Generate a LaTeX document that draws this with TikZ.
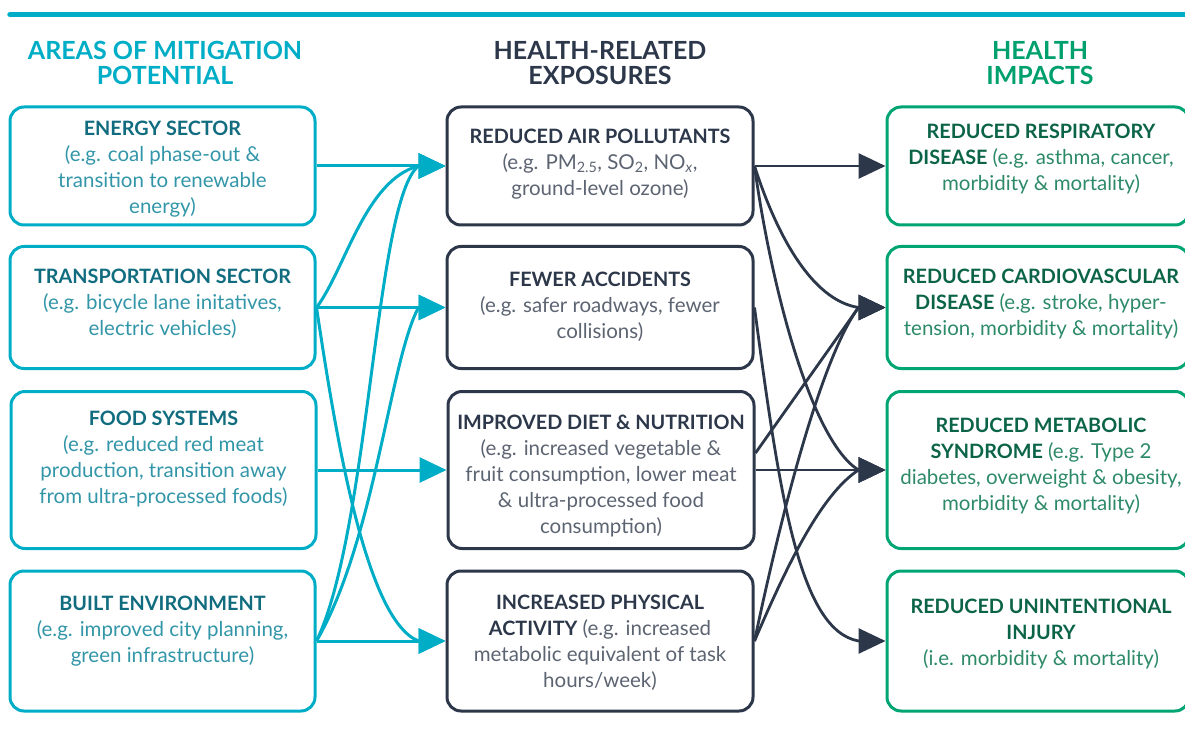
\documentclass[tikz,border=0pt]{standalone}
\usepackage{fontspec}
\setmainfont{Lato}
\usetikzlibrary{arrows.meta}
\definecolor{tealA}{RGB}{0,173,198}
\definecolor{tealT}{RGB}{16,108,126}
\definecolor{tealB}{RGB}{50,150,168}
\definecolor{navyA}{RGB}{44,55,74}
\definecolor{navyB}{RGB}{92,100,114}
\definecolor{greenA}{RGB}{0,165,115}
\definecolor{greenH}{RGB}{0,160,110}
\definecolor{greenT}{RGB}{12,100,72}
\definecolor{greenB}{RGB}{45,138,104}
\newcommand\bxtitle[2]{{\fontsize{19.8}{26}\selectfont\bfseries\color{#1}#2}}
\begin{document}
\begin{tikzpicture}[x=1pt,y=-1pt,
  boxbase/.style={rounded corners=14pt, line width=3pt, inner sep=0pt},
  lbox/.style={boxbase, draw=tealA, minimum width=305pt},
  mbox/.style={boxbase, draw=navyA, minimum width=306pt},
  rbox/.style={boxbase, draw=greenA, minimum width=302pt},
  txtbase/.style={align=center, inner sep=0pt, font=\fontsize{20.5}{26}\selectfont},
  ltxt/.style={txtbase, text=tealB},
  mtxt/.style={txtbase, text=navyB},
  rtxt/.style={txtbase, text=greenB},
  head/.style={align=center, inner sep=0pt, font=\fontsize{25}{25.5}\selectfont\bfseries},
  tl/.style={draw=tealA, line width=3pt, line join=round, -{Triangle[length=27pt,width=25pt]}},
  nv/.style={draw=navyA, line width=2.8pt, line join=round, -{Triangle[length=27pt,width=25pt]}}
]
\useasboundingbox (0,0) rectangle (1185,735);
\clip (0,0) rectangle (1185,735);
\draw[tealA, line width=5.5pt, line cap=round] (10,14.5) -- (1195,14.5);

% headings
\node[head, text=tealA] (h1) at (165,63) {AREAS OF MITIGATION\\POTENTIAL};
\node[head, text=navyA] (h2) at (600,63) {HEALTH-RELATED\\EXPOSURES};
\node[head, text=greenH] (h3) at (1040,63) {HEALTH\\IMPACTS};

% left boxes
\node[lbox, minimum height=118pt] (e1) at (162.5,166) {};
\node[lbox, minimum height=122pt] (t2) at (162.5,307.5) {};
\node[lbox, minimum height=157pt] (f3) at (163.5,470) {};
\node[lbox, minimum height=140pt] (b4) at (162.5,641) {};
% middle boxes
\node[mbox, minimum height=118pt] (a1) at (600,166) {};
\node[mbox, minimum height=122pt] (c2) at (600,307.5) {};
\node[mbox, minimum height=157pt] (d3) at (601,470) {};
\node[mbox, minimum height=140pt] (p4) at (600,641) {};
% right boxes
\node[rbox, minimum height=118pt] (r1) at (1038,166) {};
\node[rbox, minimum height=122pt] (v2) at (1038,307.5) {};
\node[rbox, minimum height=157pt] (m3) at (1038,470) {};
\node[rbox, minimum height=140pt] (i4) at (1038,641) {};

% left texts
\node[ltxt] (e1t) at (162.5,169.5) {\bxtitle{tealT}{ENERGY SECTOR}\\(e.g. coal phase-out \&\\transition to renewable\\energy)};
\node[ltxt] (t2t) at (162.5,303.5) {\bxtitle{tealT}{TRANSPORTATION SECTOR}\\(e.g. bicycle lane initatives,\\electric vehicles)};
\node[ltxt] (f3t) at (163.5,459) {\bxtitle{tealT}{FOOD SYSTEMS}\\(e.g. reduced red meat\\production, transition away\\from ultra-processed foods)};
\node[ltxt] (b4t) at (162.5,631.5) {\bxtitle{tealT}{BUILT ENVIRONMENT}\\(e.g. improved city planning,\\green infrastructure)};
% middle texts
\node[mtxt] (a1t) at (600,164) {\bxtitle{navyA}{REDUCED AIR POLLUTANTS}\\(e.g. PM\textsubscript{2.5}, SO\textsubscript{2}, NO\textsubscript{\itshape x},\\ground-level ozone)};
\node[mtxt] (c2t) at (600,307) {\bxtitle{navyA}{FEWER ACCIDENTS}\\(e.g. safer roadways, fewer\\collisions)};
\node[mtxt] (d3t) at (601,476.5) {\bxtitle{navyA}{IMPROVED DIET \& NUTRITION}\\(e.g. increased vegetable \&\\fruit consumption, lower meat\\\& ultra-processed food\\consumption)};
\node[mtxt] (p4t) at (600,642.5) {\bxtitle{navyA}{INCREASED PHYSICAL}\\\bxtitle{navyA}{ACTIVITY} (e.g. increased\\metabolic equivalent of task\\hours/week)};
% right texts
\node[rtxt] (r1t) at (1041,159) {\bxtitle{greenT}{REDUCED RESPIRATORY}\\\bxtitle{greenT}{DISEASE} (e.g. asthma, cancer,\\morbidity \& mortality)};
\node[rtxt] (v2t) at (1041,304) {\bxtitle{greenT}{REDUCED CARDIOVASCULAR}\\\bxtitle{greenT}{DISEASE} (e.g. stroke, hyper-\\tension, morbidity \& mortality)};
\node[rtxt] (m3t) at (1041,466) {\bxtitle{greenT}{REDUCED METABOLIC}\\\bxtitle{greenT}{SYNDROME} (e.g. Type 2\\diabetes, overweight \& obesity,\\morbidity \& mortality)};
\node[rtxt] (i4t) at (1041,634.5) {\bxtitle{greenT}{REDUCED UNINTENTIONAL}\\\bxtitle{greenT}{INJURY}\\(i.e. morbidity \& mortality)};

% teal connectors
\draw[tl] (e1.east) -- (a1.west);
\draw[tl] (t2.east) -- (c2.west);
\draw[tl] (f3.east) -- (d3.west);
\draw[tl] (b4.east) -- (p4.west);
\draw[tl] (t2.east) .. controls (345,270) and (365,180) .. ([xshift=-27pt]a1.west) -- (a1.west);
\draw[tl] (t2.east) .. controls (335,430) and (365,620) .. ([xshift=-27pt]p4.west) -- (p4.west);
\draw[tl] (b4.east) .. controls (370,530) and (375,200) .. ([xshift=-27pt]a1.west) -- (a1.west);
\draw[tl] (b4.east) .. controls (375,540) and (390,360) .. ([xshift=-27pt]c2.west) -- (c2.west);

% navy connectors
\draw[nv] (a1.east) -- (r1.west);
\draw[nv] (d3.east) -- (m3.west);
\draw[nv] (a1.east) .. controls (775,230) and (810,300) .. ([xshift=-27pt]v2.west) -- (v2.west);
\draw[nv] (a1.east) .. controls (770,280) and (810,440) .. ([xshift=-27pt]m3.west) -- (m3.west);
\draw[nv] (c2.east) .. controls (780,500) and (800,630) .. ([xshift=-27pt]i4.west) -- (i4.west);
\draw[nv] ([yshift=17pt]d3.east) -- ([xshift=-27pt]v2.west) -- (v2.west);
\draw[nv] (p4.east) .. controls (780,520) and (820,360) .. ([xshift=-27pt]v2.west) -- (v2.west);
\draw[nv] (p4.east) .. controls (785,570) and (820,495) .. ([xshift=-27pt]m3.west) -- (m3.west);
\end{tikzpicture}
\end{document}
